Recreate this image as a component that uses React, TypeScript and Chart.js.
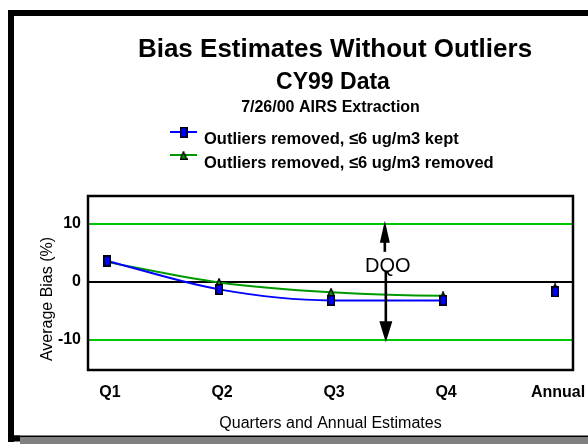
import { useEffect, useRef } from 'react';
import { Chart, registerables } from 'chart.js';

Chart.register(...registerables);

const categories = ['Q1', 'Q2', 'Q3', 'Q4', 'Annual'];
const keptValues = [3.6, -1.3, -3.2, -3.2, -1.7];
const removedValues = [3.4, -0.1, -1.8, -2.4, -1.0];
const yTickValues = [-10, 0, 10];
const dqoLimit = 10;
const dqoX = 2.48;
const titleLines = ['Bias Estimates Without Outliers', 'CY99 Data', '7/26/00 AIRS Extraction'];
const legendLabels = ['Outliers removed, \u22646 ug/m3 kept', 'Outliers removed, \u22646 ug/m3 removed'];
const xTitle = 'Quarters and Annual Estimates';
const yTitle = 'Average Bias (%)';

const FONT = "'Liberation Sans', Arial, Helvetica, sans-serif";
const BLUE = '#0000ff';
const GREEN_SERIES = '#009a00';
const GREEN_GRID = '#00c800';

function makeSquare(): HTMLCanvasElement {
  const c = document.createElement('canvas');
  c.width = 8;
  c.height = 11;
  const g = c.getContext('2d')!;
  g.fillStyle = '#000';
  g.fillRect(0, 0, 8, 11);
  g.fillStyle = BLUE;
  g.fillRect(1.5, 1.5, 5, 8);
  return c;
}

function makeTriangle(): HTMLCanvasElement {
  const c = document.createElement('canvas');
  c.width = 8;
  c.height = 9;
  const g = c.getContext('2d')!;
  g.beginPath();
  g.moveTo(4, 0.8);
  g.lineTo(7.3, 8.3);
  g.lineTo(0.7, 8.3);
  g.closePath();
  g.fillStyle = GREEN_SERIES;
  g.fill();
  g.lineWidth = 1.4;
  g.strokeStyle = '#000';
  g.stroke();
  return c;
}

export default function App() {
  const ref = useRef<HTMLCanvasElement>(null);

  useEffect(() => {
    if (!ref.current) return;
    const square = makeSquare();
    const triangle = makeTriangle();

    const decor = {
      id: 'decor',
      beforeDraw(chart: any) {
        const { ctx, width, height } = chart;
        ctx.save();
        ctx.fillStyle = '#fff';
        ctx.fillRect(0, 0, width, height);
        ctx.fillStyle = '#000';
        ctx.fillRect(8, 10, 6, 432);
        ctx.fillRect(8, 10, width - 8, 6);
        ctx.fillRect(8, 435.5, width - 8, 2);
        ctx.fillRect(8, 435.5, 12, 6);
        ctx.fillStyle = '#808080';
        ctx.fillRect(20, 437.5, width - 20, 7);
        ctx.restore();
      },
      afterDatasetsDraw(chart: any) {
        const { ctx, chartArea, scales } = chart;
        const x = scales.x.getPixelForValue(dqoX);
        const yTop = scales.y.getPixelForValue(dqoLimit) - 3;
        const yBot = scales.y.getPixelForValue(-dqoLimit) + 2.5;
        const y0 = scales.y.getPixelForValue(0);
        ctx.save();
        ctx.fillStyle = '#000';
        ctx.strokeStyle = '#000';
        ctx.lineWidth = 2.6;
        // up arrow
        ctx.beginPath();
        ctx.moveTo(x, yTop + 20);
        ctx.lineTo(x, yTop + 31);
        ctx.stroke();
        ctx.beginPath();
        ctx.moveTo(x, yTop);
        ctx.lineTo(x + 5, yTop + 22);
        ctx.lineTo(x - 5, yTop + 22);
        ctx.closePath();
        ctx.fill();
        // down arrow
        ctx.beginPath();
        ctx.moveTo(x + 1, y0 - 11);
        ctx.lineTo(x + 1, yBot - 18);
        ctx.stroke();
        ctx.beginPath();
        ctx.moveTo(x + 1, yBot);
        ctx.lineTo(x + 7.5, yBot - 21);
        ctx.lineTo(x - 5.5, yBot - 21);
        ctx.closePath();
        ctx.fill();
        // DQO label
        ctx.font = `20px ${FONT}`;
        ctx.textAlign = 'center';
        ctx.textBaseline = 'alphabetic';
        ctx.fillText('DQO', x + 3, y0 - 9.5);
        // plot border
        ctx.lineWidth = 2.5;
        ctx.strokeRect(chartArea.left, chartArea.top, chartArea.right - chartArea.left, chartArea.bottom - chartArea.top);
        ctx.restore();
      },
      afterDraw(chart: any) {
        const { ctx, chartArea } = chart;
        ctx.save();
        ctx.fillStyle = '#000';
        ctx.textAlign = 'center';
        ctx.textBaseline = 'alphabetic';
        ctx.font = `bold 26px ${FONT}`;
        ctx.fillText(titleLines[0], 335, 57);
        ctx.font = `bold 23px ${FONT}`;
        ctx.fillText(titleLines[1], 333, 89);
        ctx.font = `bold 16px ${FONT}`;
        ctx.fillText(titleLines[2], 330.5, 111.5);

        // legend
        const items = [
          { label: legendLabels[0], color: BLUE, img: square, y: 132, base: 144 },
          { label: legendLabels[1], color: GREEN_SERIES, img: triangle, y: 155, base: 167.5 },
        ];
        ctx.textAlign = 'left';
        ctx.font = `bold 16.5px ${FONT}`;
        for (const it of items) {
          ctx.strokeStyle = it.color;
          ctx.lineWidth = 2;
          ctx.beginPath();
          ctx.moveTo(170, it.y);
          ctx.lineTo(197, it.y);
          ctx.stroke();
          ctx.drawImage(it.img, 183.5 - it.img.width / 2, it.y - it.img.height / 2 + 0.5);
          ctx.fillStyle = '#000';
          ctx.fillText(it.label, 204, it.base);
        }

        // y-axis title
        ctx.save();
        ctx.translate(47.5, (chartArea.top + chartArea.bottom) / 2 + 16);
        ctx.rotate(-Math.PI / 2);
        ctx.textAlign = 'center';
        ctx.textBaseline = 'middle';
        ctx.font = `16px ${FONT}`;
        ctx.fillText(yTitle, 0, 0);
        ctx.restore();
        ctx.restore();
      },
    };

    const toPoints = (vals: number[]) => vals.map((v, i) => ({ x: i, y: v }));
    const lastIdx = categories.length - 1;

    const chart = new Chart(ref.current, {
      type: 'line',
      data: {
        datasets: [
          {
            label: legendLabels[0],
            data: toPoints(keptValues),
            borderColor: BLUE,
            borderWidth: 2,
            pointStyle: square as any,
            cubicInterpolationMode: 'monotone',
            segment: { borderColor: (c: any) => (c.p1DataIndex === lastIdx ? 'rgba(0,0,0,0)' : undefined) },
          },
          {
            label: legendLabels[1],
            data: toPoints(removedValues),
            borderColor: GREEN_SERIES,
            borderWidth: 2,
            pointStyle: triangle as any,
            cubicInterpolationMode: 'monotone',
            segment: { borderColor: (c: any) => (c.p1DataIndex === lastIdx ? 'rgba(0,0,0,0)' : undefined) },
          },
        ],
      },
      options: {
        animation: false,
        responsive: false,
        events: [],
        layout: { padding: { left: 0, top: 196, right: 15, bottom: 0 } },
        plugins: { legend: { display: false }, title: { display: false }, tooltip: { enabled: false } },
        scales: {
          x: {
            type: 'linear',
            min: -0.17,
            max: 4.16,
            afterBuildTicks: (s: any) => {
              s.ticks = categories.map((_, i) => ({ value: i }));
            },
            afterFit: (s: any) => {
              s.height = 74;
              s.paddingLeft = 0;
              s.paddingRight = 0;
            },
            grid: { display: false, drawTicks: false },
            border: { display: false },
            ticks: {
              callback: (v: any) => categories[v as number] ?? '',
              font: { family: FONT, size: 16, weight: 'bold' },
              color: '#000',
              padding: 13,
              labelOffset: 3,
              maxRotation: 0,
              autoSkip: false,
            },
            title: {
              display: true,
              text: xTitle,
              font: { family: FONT, size: 16 },
              color: '#000',
              padding: { top: 0, bottom: 10.4 },
            },
          },
          y: {
            min: -15.2,
            max: 14.8,
            afterBuildTicks: (s: any) => {
              s.ticks = yTickValues.map((v) => ({ value: v }));
            },
            afterFit: (s: any) => {
              s.width = 88;
              s.paddingTop = 0;
              s.paddingBottom = 0;
            },
            grid: {
              drawTicks: false,
              lineWidth: 2,
              color: (c: any) => (c.tick && c.tick.value === 0 ? '#000' : GREEN_GRID),
            },
            border: { display: false },
            ticks: {
              font: { family: FONT, size: 16, weight: 'bold' },
              color: '#000',
              padding: 7,
            },
          },
        },
      },
      plugins: [decor],
    } as any);

    return () => chart.destroy();
  }, []);

  return (
    <div style={{ position: 'absolute', left: 0, top: 0, width: 588, height: 444 }}>
      <canvas ref={ref} width={588} height={444} style={{ display: 'block' }} />
    </div>
  );
}
